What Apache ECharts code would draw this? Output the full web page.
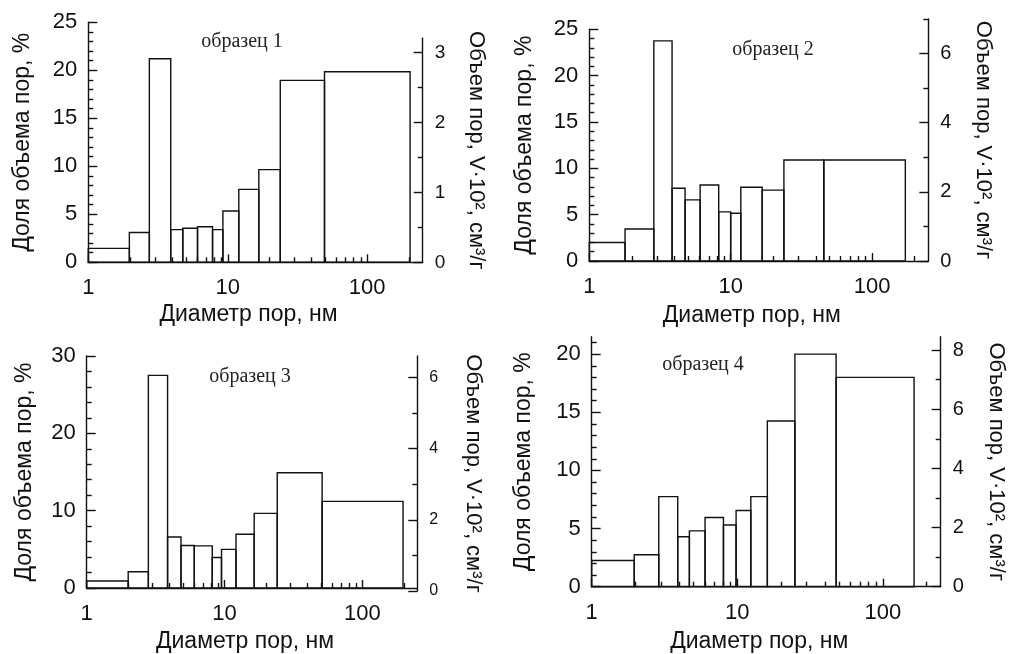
<!DOCTYPE html>
<html>
<head>
<meta charset="utf-8">
<script src="https://cdn.jsdelivr.net/npm/echarts@6/dist/echarts.min.js"></script>
<style>
html,body{margin:0;padding:0;background:#fff;}
#chart{width:1011px;height:654px;}
</style>
</head>
<body>
<div id="chart"></div>
<script>
// ---------- DATA ----------
const panelTitles = ['образец 1', 'образец 2', 'образец 3', 'образец 4'];
const xName = 'Диаметр пор, нм';
const yLeftName = 'Доля объема пор, %';
const yRightName = 'Объем пор, V·10², см³/г';

// bin edges (nm) and pore-volume share (%) per sample
const edges1 = [1, 1.97, 2.74, 3.9, 4.76, 6.07, 7.78, 9.23, 12, 16.7, 23.8, 49.4, 203];
const vals1  = [1.45, 3.1, 21.2, 3.4, 3.55, 3.7, 3.4, 5.35, 7.6, 9.65, 18.95, 19.85];
const edges2 = [1, 1.79, 2.86, 3.85, 4.76, 6.08, 8.23, 10, 11.8, 16.7, 23.8, 45.6, 172];
const vals2  = [2.0, 3.45, 23.75, 7.85, 6.6, 8.2, 5.3, 5.15, 7.95, 7.65, 10.9, 10.9];
const edges3 = [1, 2.0, 2.8, 3.86, 4.83, 6.03, 8.14, 9.5, 12.1, 16.4, 24.1, 51, 197];
const vals3  = [0.9, 2.1, 27.5, 6.6, 5.5, 5.45, 3.95, 5.0, 6.95, 9.65, 14.9, 11.2];
const edges4 = [1, 1.96, 2.89, 3.9, 4.69, 6.01, 8.04, 9.82, 12.4, 16.1, 24.9, 47.8, 164];
const vals4  = [2.25, 2.75, 7.75, 4.3, 4.8, 5.95, 5.3, 6.55, 7.75, 14.25, 20.0, 18.0];

// axis ticks
const xMin = 1, xMax = 250;
const xTickMajor = [1, 10, 100];
const xTickMinor = [2, 3, 4, 5, 6, 7, 8, 9, 20, 30, 40, 50, 60, 70, 80, 90, 200];

const leftMax = [25, 25, 30, 21.5];
const leftMajor1 = [0, 5, 10, 15, 20, 25];
const leftMinor1 = [1, 2, 3, 4, 6, 7, 8, 9, 11, 12, 13, 14, 16, 17, 18, 19, 21, 22, 23, 24];
const leftMajor3 = [0, 10, 20, 30];
const leftMinor3 = [2, 4, 6, 8, 12, 14, 16, 18, 22, 24, 26, 28];
const leftMajor4 = [0, 5, 10, 15, 20];
const leftMinor4 = [1, 2, 3, 4, 6, 7, 8, 9, 11, 12, 13, 14, 16, 17, 18, 19, 21];

const rightMax = [3.2, 7, 6.6, 8.45];
const rightMajor1 = [0, 1, 2, 3];
const rightMinor1 = [0.5, 1.5, 2.5];
const rightMajor2 = [0, 2, 4, 6];
const rightMinor2 = [1, 3, 5, 7];
const rightMajor3 = [0, 2, 4, 6];
const rightMinor3 = [1, 3, 5];
const rightMajor4 = [0, 2, 4, 6, 8];
const rightMinor4 = [1, 3, 5, 7];

const panelData = [
  {edges: edges1, vals: vals1, lMaj: leftMajor1, lMin: leftMinor1, rMaj: rightMajor1, rMin: rightMinor1},
  {edges: edges2, vals: vals2, lMaj: leftMajor1, lMin: leftMinor1, rMaj: rightMajor2, rMin: rightMinor2},
  {edges: edges3, vals: vals3, lMaj: leftMajor3, lMin: leftMinor3, rMaj: rightMajor3, rMin: rightMinor3},
  {edges: edges4, vals: vals4, lMaj: leftMajor4, lMin: leftMinor4, rMaj: rightMajor4, rMin: rightMinor4}
];

// ---------- LAYOUT ----------
const layout = [
  {L: 88.3,  R: 422.7, B: 262.3, topA: 22.3, topB: 38.3, rFont: 19, titleX: 242, titleY: 42,  lGap: 54, rGap: 42, xGap: 41},
  {L: 589.3, R: 928.3, B: 261,   topA: 29.3, topB: 19,   rFont: 20, titleX: 773, titleY: 50,  lGap: 53, rGap: 44, xGap: 43},
  {L: 86.7,  R: 417.3, B: 591,   topA: 356,  topB: 356,  rFont: 16, titleX: 250, titleY: 377, lGap: 51, rGap: 45, xGap: 42},
  {L: 591.7, R: 940.7, B: 586.7, topA: 336.7,topB: 336.7,rFont: 20, titleX: 703, titleY: 365, lGap: 57, rGap: 44, xGap: 43}
];

const INK = '#111';
const SANS = 'Liberation Sans, Arial, sans-serif';
const SERIF = 'Liberation Serif, Times New Roman, serif';
const LW = 1.4;
const NAME_FS = 23, XLAB_FS = 22, YLAB_FS = 22;

const grid = [], xAxis = [], yAxis = [], series = [], graphic = [];

panelData.forEach((p, i) => {
  const g = layout[i];
  const W = g.R - g.L;
  grid.push({left: g.L, top: g.topA, width: W, height: g.B - g.topA});
  grid.push({left: g.L, top: g.topB, width: W, height: g.B - g.topB});
  const gA = 2 * i, gB = 2 * i + 1;

  // x axes
  xAxis.push({
    type: 'log', logBase: 10, gridIndex: gA, position: 'bottom', min: xMin, max: xMax,
    axisLine: {show: true, onZero: false, lineStyle: {color: INK, width: LW}},
    axisTick: {show: true, inside: true, length: 8, lineStyle: {color: INK, width: LW}, customValues: xTickMajor},
    axisLabel: {show: true, customValues: xTickMajor, color: INK, fontSize: XLAB_FS, fontFamily: SANS, margin: 15},
    splitLine: {show: false}, minorTick: {show: false},
    name: xName, nameLocation: 'middle', nameGap: g.xGap,
    nameTextStyle: {color: INK, fontSize: NAME_FS, fontFamily: SANS, padding: [0, 14, 0, 0]}
  });
  xAxis.push({
    type: 'log', logBase: 10, gridIndex: gA, position: 'bottom', min: xMin, max: xMax,
    axisLine: {show: false, onZero: false},
    axisTick: {show: true, inside: true, length: 5, lineStyle: {color: INK, width: LW}, customValues: xTickMinor},
    axisLabel: {show: false}, splitLine: {show: false}
  });
  xAxis.push({type: 'log', logBase: 10, gridIndex: gB, position: 'bottom', min: xMin, max: xMax, show: false});

  // left y axes
  yAxis.push({
    type: 'value', gridIndex: gA, position: 'left', min: 0, max: leftMax[i],
    axisLine: {show: true, onZero: false, lineStyle: {color: INK, width: LW}},
    axisTick: {show: true, inside: true, length: 9, lineStyle: {color: INK, width: LW}, customValues: p.lMaj},
    axisLabel: {show: true, customValues: p.lMaj, color: INK, fontSize: YLAB_FS, fontFamily: SANS, margin: 11},
    splitLine: {show: false},
    name: yLeftName, nameLocation: 'middle', nameGap: g.lGap,
    nameTextStyle: {color: INK, fontSize: NAME_FS, fontFamily: SANS}
  });
  yAxis.push({
    type: 'value', gridIndex: gA, position: 'left', min: 0, max: leftMax[i],
    axisLine: {show: false, onZero: false},
    axisTick: {show: true, inside: true, length: 5, lineStyle: {color: INK, width: LW}, customValues: p.lMin},
    axisLabel: {show: false}, splitLine: {show: false}
  });
  // right y axes
  yAxis.push({
    type: 'value', gridIndex: gB, position: 'right', min: 0, max: rightMax[i],
    axisLine: {show: true, onZero: false, lineStyle: {color: INK, width: LW}},
    axisTick: {show: true, inside: true, length: 9, lineStyle: {color: INK, width: LW}, customValues: p.rMaj},
    axisLabel: {show: true, customValues: p.rMaj, color: INK, fontSize: g.rFont, fontFamily: SANS, margin: 12},
    splitLine: {show: false},
    name: yRightName, nameLocation: 'middle', nameGap: g.rGap, nameRotate: -90,
    nameTextStyle: {color: INK, fontSize: NAME_FS - 1, fontFamily: SANS}
  });
  yAxis.push({
    type: 'value', gridIndex: gB, position: 'right', min: 0, max: rightMax[i],
    axisLine: {show: false, onZero: false},
    axisTick: {show: true, inside: true, length: 5, lineStyle: {color: INK, width: LW}, customValues: p.rMin},
    axisLabel: {show: false}, splitLine: {show: false}
  });

  // histogram bars
  series.push({
    type: 'custom',
    xAxisIndex: 3 * i, yAxisIndex: 4 * i,
    encode: {x: [0, 1], y: 2},
    data: p.vals.map((v, k) => [p.edges[k], p.edges[k + 1], v]),
    renderItem: function (params, api) {
      const a = api.coord([api.value(0), api.value(2)]);
      const b = api.coord([api.value(1), 0]);
      return {
        type: 'rect',
        shape: {x: a[0], y: a[1], width: b[0] - a[0], height: b[1] - a[1]},
        style: {fill: 'none', stroke: INK, lineWidth: LW}
      };
    },
    silent: true, animation: false
  });

  graphic.push({
    type: 'text', x: g.titleX, y: g.titleY,
    style: {text: panelTitles[i], font: '20px ' + SERIF, fill: '#222', textAlign: 'center', textVerticalAlign: 'middle'}
  });
});

const chart = echarts.init(document.getElementById('chart'), null, {renderer: 'canvas'});
chart.setOption({
  backgroundColor: '#fff',
  animation: false,
  grid, xAxis, yAxis, series, graphic
});
</script>
</body>
</html>
